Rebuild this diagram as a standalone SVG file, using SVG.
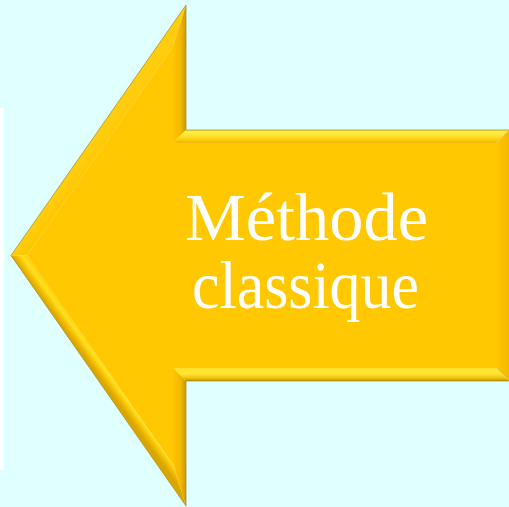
<svg xmlns="http://www.w3.org/2000/svg" width="509" height="507" viewBox="0 0 509 507">
<defs>
<style>
.lbl{font-family:"Liberation Serif","Times New Roman",serif;font-size:67px;fill:#ffffff;text-anchor:middle}
.edge{fill:none;stroke:#a88a20;stroke-width:1;stroke-opacity:0.7;stroke-linejoin:miter}
</style>
<linearGradient id="gTop" x1="0" y1="130" x2="0" y2="143" gradientUnits="userSpaceOnUse">
<stop offset="0" stop-color="#f2dc30"/>
<stop offset="0.15" stop-color="#fff24a"/>
<stop offset="0.55" stop-color="#ffdc20"/>
<stop offset="1" stop-color="#f2b600"/>
</linearGradient>
<linearGradient id="gBot" x1="0" y1="368" x2="0" y2="381" gradientUnits="userSpaceOnUse">
<stop offset="0" stop-color="#ffe02a"/>
<stop offset="0.45" stop-color="#ffe838"/>
<stop offset="0.8" stop-color="#f0bc00"/>
<stop offset="1" stop-color="#b89000"/>
</linearGradient>
<linearGradient id="gVert" x1="173" y1="0" x2="186" y2="0" gradientUnits="userSpaceOnUse">
<stop offset="0" stop-color="#ffc400"/>
<stop offset="0.6" stop-color="#f2b800"/>
<stop offset="1" stop-color="#c79a00"/>
</linearGradient>
<linearGradient id="gRight" x1="496" y1="0" x2="509" y2="0" gradientUnits="userSpaceOnUse">
<stop offset="0" stop-color="#ffc600"/>
<stop offset="1" stop-color="#f4b800"/>
</linearGradient>
<linearGradient id="gDiagUp" x1="19" y1="261" x2="11" y2="255" gradientUnits="userSpaceOnUse">
<stop offset="0" stop-color="#ffc800"/>
<stop offset="1" stop-color="#ffcd10"/>
</linearGradient>
<linearGradient id="gDiagLo" x1="27" y1="255" x2="16" y2="263" gradientUnits="userSpaceOnUse">
<stop offset="0" stop-color="#ffcc00"/>
<stop offset="0.35" stop-color="#ffe020"/>
<stop offset="0.7" stop-color="#f2bc00"/>
<stop offset="1" stop-color="#d9a600"/>
</linearGradient>
</defs>
<rect x="0" y="0" width="509" height="507" fill="#e0ffff"/>
<rect x="0" y="108" width="4" height="362" fill="#fbffff"/>
<g id="arrow">
<polygon points="27,255.5 173,46.5 173,143 496,143 496,368 173,368 173,464.5" fill="#ffc800"/>
<polygon points="11,255.5 186,5 173,46.5 27,255.5" fill="url(#gDiagUp)"/>
<polygon points="186,5 186,130 173,143 173,46.5" fill="url(#gVert)"/>
<polygon points="186,130 509,130 496,143 173,143" fill="url(#gTop)"/>
<polygon points="509,130 509,381 496,368 496,143" fill="url(#gRight)"/>
<polygon points="509,381 186,381 173,368 496,368" fill="url(#gBot)"/>
<polygon points="186,381 186,506 173,464.5 173,368" fill="url(#gVert)"/>
<polygon points="186,506 11,255.5 27,255.5 173,464.5" fill="url(#gDiagLo)"/>
<polygon class="edge" points="11,255.5 186,5 186,130 509.5,130 509.5,381 186,381 186,506"/>
<text class="lbl" x="306.5" y="240" textLength="243" lengthAdjust="spacingAndGlyphs">Méthode</text>
<text class="lbl" x="305.5" y="308" textLength="227" lengthAdjust="spacingAndGlyphs">classique</text>
</g>
</svg>
